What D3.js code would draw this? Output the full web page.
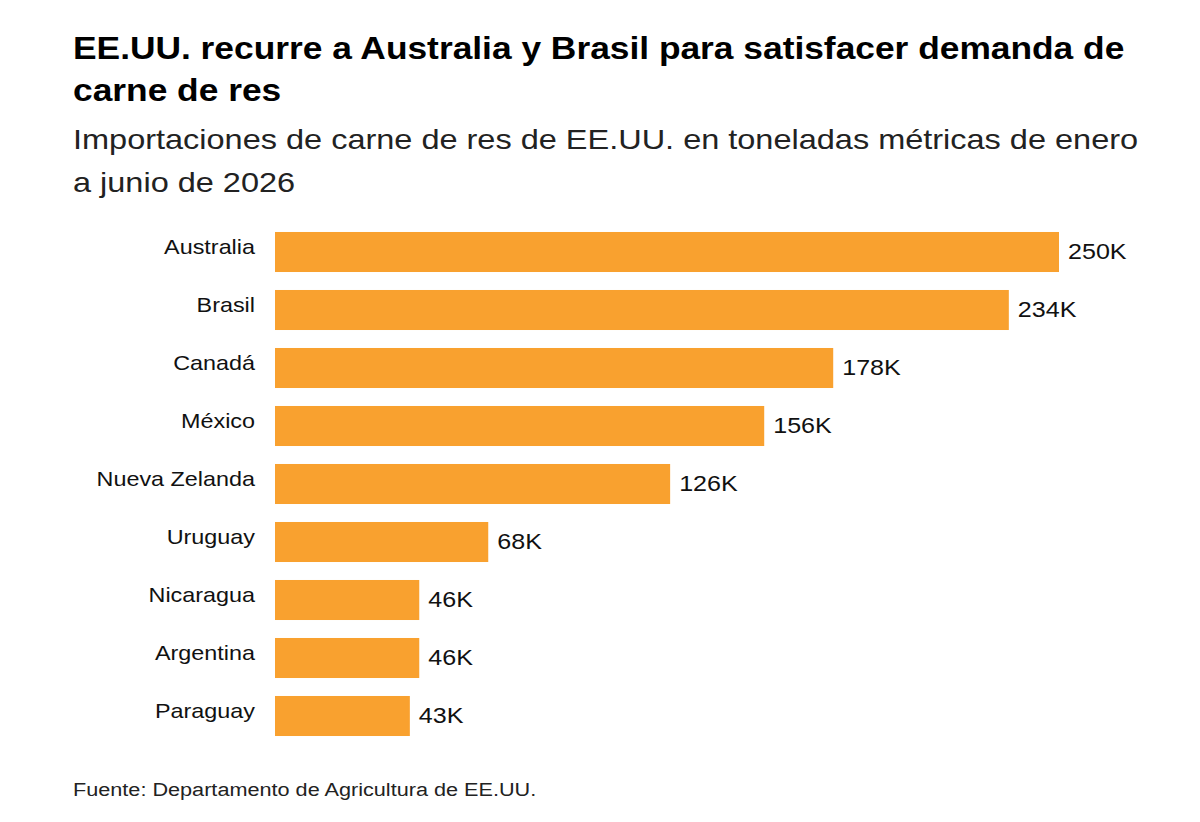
<!DOCTYPE html>
<html>
<head>
<meta charset="utf-8">
<script src="https://cdn.jsdelivr.net/npm/d3@7"></script>
<style>
  body { margin: 0; background: #fff; }
  text { font-family: "Liberation Sans", Arial, sans-serif; }
</style>
</head>
<body>
<div id="chart"></div>
<script>
// data (thousands of metric tons)
var countries = ['Australia', 'Brasil', 'Canadá', 'México', 'Nueva Zelanda', 'Uruguay', 'Nicaragua', 'Argentina', 'Paraguay'];
var imports = [250, 234, 178, 156, 126, 68, 46, 46, 43];
var titleLines = ['EE.UU. recurre a Australia y Brasil para satisfacer demanda de', 'carne de res'];
var subtitleLines = ['Importaciones de carne de res de EE.UU. en toneladas métricas de enero', 'a junio de 2026'];
var source = 'Fuente: Departamento de Agricultura de EE.UU.';

var width = 1200, height = 822;
var barColor = '#f9a12f';
var stretch = 1.14; // the reference type is set wide

var svg = d3.select('#chart').append('svg')
    .attr('width', width)
    .attr('height', height);

var data = countries.map(function(c, i) { return {country: c, value: imports[i]}; });

// puts a text at (x,y) with the horizontal stretch
function wideText(sel, fx, fy) {
    return sel.append('g')
        .attr('transform', function(d, i) { return 'translate(' + fx(d, i) + ',' + fy(d, i) + ') scale(' + stretch + ',1)'; })
        .append('text');
}

// title
var titleG = svg.append('g').selectAll('g').data(titleLines).join('g');
wideText(titleG, function() { return 73; }, function(d, i) { return 59 + i * 42; })
    .attr('font-size', 31)
    .attr('font-weight', 'bold')
    .attr('fill', '#000')
    .text(function(d) { return d; });

// subtitle
var subG = svg.append('g').selectAll('g').data(subtitleLines).join('g');
wideText(subG, function() { return 73; }, function(d, i) { return 149 + i * 43; })
    .attr('font-size', 28.5)
    .attr('fill', '#222')
    .text(function(d) { return d; });

var x = d3.scaleLinear().domain([0, 250]).range([275, 1059]);
var y = d3.scaleBand().domain(countries).range([223, 745])
    .paddingInner(0.31).paddingOuter(0.155);

// bars
svg.append('g').selectAll('rect')
    .data(data)
    .join('rect')
    .attr('x', x(0))
    .attr('y', function(d) { return y(d.country); })
    .attr('width', function(d) { return x(d.value) - x(0); })
    .attr('height', y.bandwidth())
    .attr('fill', barColor);

// category labels
var catG = svg.append('g').selectAll('g').data(data).join('g');
wideText(catG, function() { return 255; }, function(d) { return y(d.country) + y.bandwidth() / 2 - 5; })
    .attr('dy', '0.35em')
    .attr('text-anchor', 'end')
    .attr('font-size', 20.5)
    .attr('fill', '#111')
    .text(function(d) { return d.country; });

// value labels
var valG = svg.append('g').selectAll('g').data(data).join('g');
wideText(valG, function(d) { return x(d.value) + 9; }, function(d) { return y(d.country) + y.bandwidth() / 2 - 1; })
    .attr('dy', '0.35em')
    .attr('font-size', 22)
    .attr('fill', '#111')
    .text(function(d) { return d.value + 'K'; });

// source
wideText(svg.append('g').datum(source), function() { return 73; }, function() { return 796; })
    .attr('font-size', 19)
    .attr('fill', '#222')
    .text(source);
</script>
</body>
</html>
